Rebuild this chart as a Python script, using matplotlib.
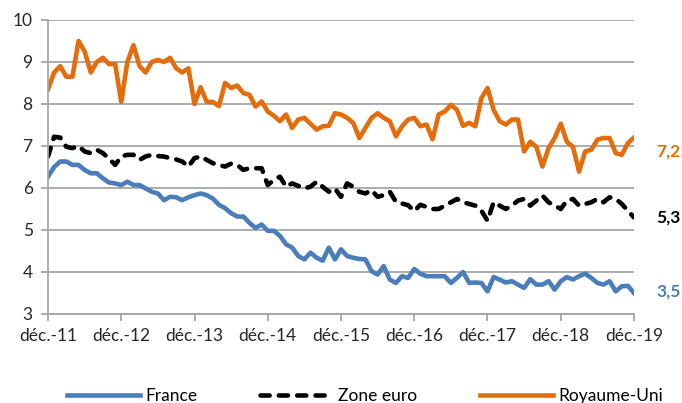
import numpy as np
import matplotlib
matplotlib.use("Agg")
from matplotlib import pyplot as plt

# monthly series, déc.-11 .. déc.-19 (97 points)
france = [6.27, 6.50, 6.63, 6.63, 6.55, 6.55, 6.43, 6.35, 6.35, 6.23, 6.13, 6.11,
          6.07, 6.15, 6.07, 6.07, 5.99, 5.91, 5.87, 5.71, 5.79, 5.78, 5.71, 5.78,
          5.83, 5.87, 5.83, 5.75, 5.60, 5.52, 5.40, 5.32, 5.32, 5.17, 5.05, 5.13,
          4.98, 4.98, 4.86, 4.66, 4.58, 4.38, 4.30, 4.46, 4.34, 4.27, 4.58, 4.30,
          4.54, 4.38, 4.34, 4.31, 4.30, 4.02, 3.94, 4.14, 3.82, 3.74, 3.90, 3.86,
          4.07, 3.96, 3.90, 3.90, 3.90, 3.90, 3.74, 3.86, 4.00, 3.74, 3.75, 3.74,
          3.54, 3.88, 3.82, 3.75, 3.78, 3.70, 3.62, 3.83, 3.70, 3.70, 3.78, 3.58,
          3.78, 3.88, 3.82, 3.90, 3.96, 3.86, 3.74, 3.70, 3.78, 3.54, 3.66, 3.67,
          3.50]
zone_euro = [6.75, 7.22, 7.20, 6.98, 6.95, 7.00, 6.87, 6.83, 6.91, 6.83, 6.70, 6.55,
             6.75, 6.79, 6.79, 6.67, 6.75, 6.79, 6.76, 6.75, 6.71, 6.68, 6.63, 6.51,
             6.71, 6.75, 6.67, 6.59, 6.55, 6.51, 6.58, 6.55, 6.43, 6.47, 6.47, 6.47,
             6.07, 6.19, 6.27, 6.03, 6.11, 6.05, 5.99, 6.03, 6.15, 6.03, 5.91, 5.99,
             5.79, 6.11, 6.03, 5.91, 5.87, 5.95, 5.79, 5.83, 5.91, 5.67, 5.63, 5.59,
             5.45, 5.60, 5.55, 5.50, 5.50, 5.58, 5.66, 5.74, 5.66, 5.62, 5.58, 5.46,
             5.22, 5.66, 5.58, 5.50, 5.58, 5.70, 5.74, 5.58, 5.70, 5.82, 5.66, 5.58,
             5.50, 5.70, 5.74, 5.58, 5.62, 5.66, 5.74, 5.66, 5.78, 5.74, 5.62, 5.46,
             5.30]
royaume_uni = [8.35, 8.75, 8.90, 8.65, 8.65, 9.50, 9.25, 8.75, 9.00, 9.10, 8.95, 8.95,
               8.05, 9.00, 9.40, 8.90, 8.75, 9.00, 9.05, 9.00, 9.10, 8.85, 8.75, 8.85,
               8.00, 8.40, 8.05, 8.05, 7.95, 8.50, 8.38, 8.44, 8.26, 8.22, 7.94, 8.06,
               7.82, 7.72, 7.59, 7.75, 7.43, 7.63, 7.67, 7.53, 7.39, 7.47, 7.48, 7.78,
               7.75, 7.67, 7.55, 7.19, 7.43, 7.67, 7.78, 7.67, 7.59, 7.23, 7.47, 7.63,
               7.67, 7.47, 7.51, 7.16, 7.75, 7.82, 7.98, 7.86, 7.48, 7.55, 7.47, 8.14,
               8.38, 7.86, 7.59, 7.51, 7.63, 7.63, 6.87, 7.10, 6.98, 6.51, 6.95, 7.19,
               7.53, 7.10, 6.98, 6.39, 6.87, 6.91, 7.15, 7.19, 7.19, 6.83, 6.79, 7.07,
               7.20]
tick_labels = ["déc.-11", "déc.-12", "déc.-13", "déc.-14", "déc.-15",
               "déc.-16", "déc.-17", "déc.-18", "déc.-19"]
end_labels = ["3,5", "5,3", "7,2"]

blue = "#4a7ebb"
orange = "#e46c0a"
grid_c = "#a6a6a6"

plt.rcParams['font.family'] = ['Lato', 'DejaVu Sans']

fig = plt.figure(figsize=(6.82, 4.03), dpi=100)
ax = fig.add_axes([48/682, 1-314/403, 586/682, 294/403])

x = np.arange(len(france))
lw = 3.3
ax.plot(x, france, color=blue, lw=lw, solid_joinstyle='round', label="France")
ax.plot(x, zone_euro, color="black", lw=lw, dashes=(2.0, 2.0),
        dash_capstyle='round', label="Zone euro")
ax.plot(x, royaume_uni, color=orange, lw=lw, solid_joinstyle='round',
        label="Royaume-Uni")

ax.set_xlim(0, len(france) - 1)
ax.set_ylim(3, 10)
ax.set_yticks(range(3, 11))
ax.set_xticks(np.arange(0, len(france), 12))
ax.set_xticklabels(tick_labels)
ax.grid(axis='y', color=grid_c, lw=1.3)
ax.set_axisbelow(True)
for s in ['top', 'right']:
    ax.spines[s].set_visible(False)
for s in ['left', 'bottom']:
    ax.spines[s].set_color(grid_c)
    ax.spines[s].set_linewidth(1.3)
ax.tick_params(axis='both', colors=grid_c, length=5, width=1.3,
               labelcolor='#262626', labelsize=12.5)
ax.tick_params(axis='x', pad=5)
ax.tick_params(axis='y', pad=6)

# end-of-series values (7,2 sits a little below its line end)
for val, txt, col, dy in zip([france[-1], zone_euro[-1], royaume_uni[-1]],
                             end_labels, [blue, "black", orange], [1, 0, -10]):
    ax.annotate(txt, xy=(len(france) - 1, val), xytext=(16, dy),
                textcoords='offset points', color=col, fontsize=12.5,
                fontweight='bold', va='center', ha='left')

fig.legend(loc='center', ncol=3, frameon=False, fontsize=12.5,
           handlelength=4.2, handletextpad=0.3, columnspacing=3.6,
           bbox_to_anchor=(365/682, 1-396/403))

fig.savefig("out.png", dpi=100)
